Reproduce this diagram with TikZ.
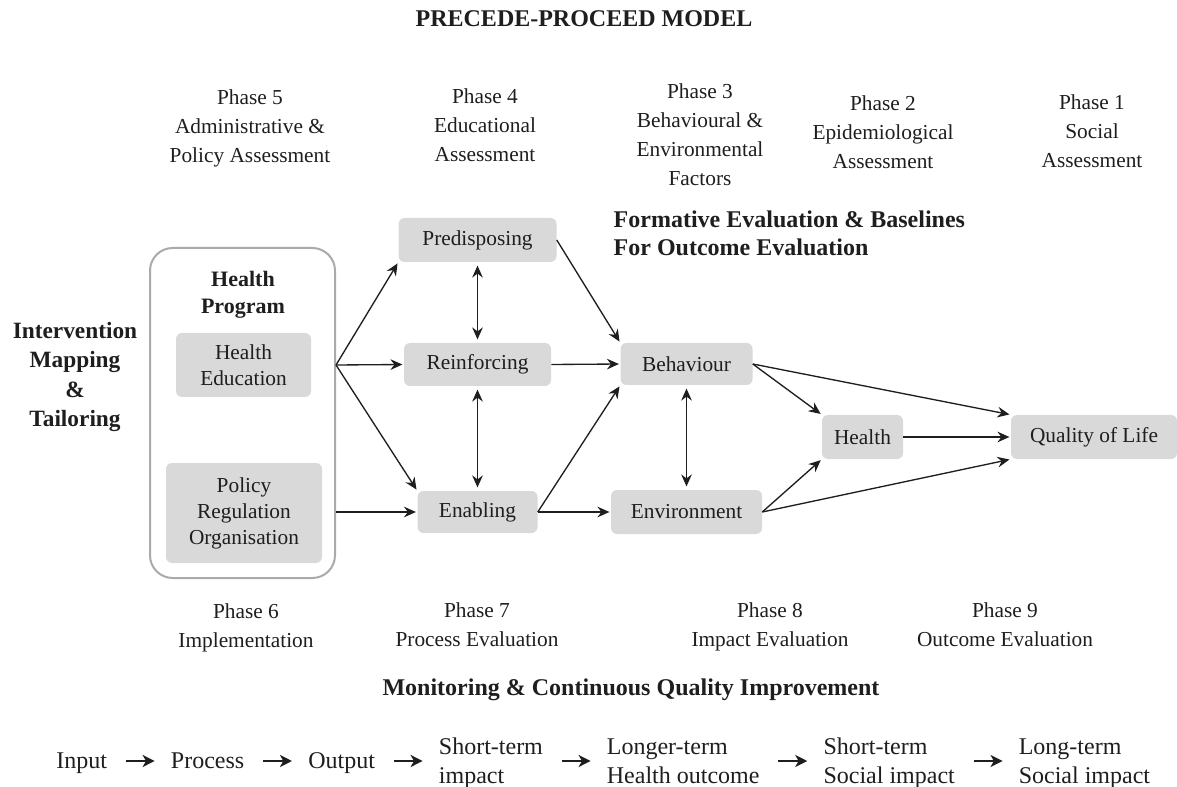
\documentclass[tikz,border=0pt]{standalone}
\usepackage{fontspec}
\setmainfont{Liberation Serif}
\usetikzlibrary{arrows.meta,positioning,calc}
\definecolor{boxgray}{RGB}{217,217,217}
\definecolor{framegray}{RGB}{170,170,170}
\definecolor{ink}{RGB}{30,30,30}

\begin{document}
\begin{tikzpicture}[x=0.75pt,y=-0.75pt,
    every node/.style={text=ink},
    phase/.style={align=center,font=\fontsize{16}{21.75}\selectfont},
    hdr/.style={align=center,font=\bfseries\fontsize{18}{21}\selectfont},
    box/.style 2 args={fill=boxgray,rounded corners=4.5pt,inner sep=0pt,align=center,
      minimum width=#1*0.75pt,minimum height=#2*0.75pt,font=\fontsize{16}{19.5}\selectfont},
    flow/.style={inner sep=0pt,text depth=0pt,align=left,font=\fontsize{18}{21.75}\selectfont},
    arr/.style={-{Stealth[length=9pt,width=8pt,inset=3pt]},line width=1pt,draw=ink,shorten >=1pt},
    dbl/.style={{Stealth[length=9pt,width=8pt,inset=3pt]}-{Stealth[length=9pt,width=8pt,inset=3pt]},
      line width=1pt,draw=ink,shorten >=2.5pt,shorten <=2.5pt},
    flowarr/.style={-{Stealth[length=9pt,width=9pt,inset=2.5pt]},line width=1.5pt,draw=ink,
      shorten <=14pt,shorten >=12pt}]
  \useasboundingbox (0,0) rectangle (1177,787);

  \node[hdr] (title) at (584,19) {PRECEDE-PROCEED MODEL};

  \node[phase] (ph5) at (250,128) {Phase 5\\Administrative \&\\Policy Assessment};
  \node[phase] (ph4) at (485,125) {Phase 4\\Educational\\Assessment};
  \node[phase] (ph3) at (700,135) {Phase 3\\Behavioural \&\\Environmental\\Factors};
  \node[phase] (ph2) at (883,132) {Phase 2\\Epidemiological\\Assessment};
  \node[phase] (ph1) at (1092,131) {Phase 1\\Social\\Assessment};
  \node[hdr,align=left,anchor=west] (form) at (609,233) {Formative Evaluation \& Baselines\\For Outcome Evaluation};

  \node[hdr,font=\bfseries\fontsize{17.5}{22}\selectfont] (imt) at (75,377) {Intervention\\Mapping\\\&\\Tailoring};

  \node[draw=framegray,line width=1.5pt,rounded corners=17pt,
    minimum width=185*0.75pt,minimum height=330*0.75pt] (prog) at (242.5,413) {};
  \node[align=center,font=\bfseries\fontsize{16.5}{20.5}\selectfont] (progtitle) at (243,295) {Health\\Program};
  \node[box={135}{64}] (hedu) at (243.5,365) {Health\\Education};
  \node[box={156}{100}] (policy) at (244,513) {Policy\\Regulation\\Organisation};

  \node[box={158}{44}] (pred) at (477.5,240) {Predisposing};
  \node[box={147}{43}] (reinf) at (477.5,364.5) {Reinforcing};
  \node[box={120}{42}] (enab) at (477.5,512) {Enabling};
  \node[box={132}{42}] (behav) at (686.5,364) {Behaviour};
  \node[box={151}{44}] (envir) at (686.5,512) {Environment};
  \node[box={81}{44}] (health) at (862.5,437) {Health};
  \node[box={166}{44}] (qol) at (1094,437) {Quality of Life};

  \coordinate (fan) at (prog.east |- hedu.east);
  \draw[arr] (fan) -- (pred.south west);
  \draw[arr] (fan) -- (reinf.west);
  \draw[arr] (fan) -- (enab.north west);
  \draw[arr] (prog.east |- enab.west) -- (enab.west);
  \draw[dbl] (pred.south) -- (reinf.north);
  \draw[dbl] (reinf.south) -- (enab.north);
  \draw[arr] (pred.east) -- (behav.north west);
  \draw[arr] (reinf.east) -- (behav.west);
  \draw[arr] (enab.east) -- (behav.south west);
  \draw[arr] (enab.east) -- (envir.west);
  \draw[dbl] (behav.south) -- (envir.north);
  \draw[arr] (behav.east) -- (health.north west);
  \draw[arr] (behav.east) -- (qol.north west);
  \draw[arr] (envir.east) -- (health.south west);
  \draw[arr] (envir.east) -- (qol.south west);
  \draw[arr] (health.east) -- (qol.west);

  \node[phase] (ph6) at (246,628) {Phase 6\\Implementation};
  \node[phase] (ph7) at (477,625) {Phase 7\\Process Evaluation};
  \node[phase] (ph8) at (770,627) {Phase 8\\Impact Evaluation};
  \node[phase] (ph9) at (1005,625) {Phase 9\\Outcome Evaluation};
  \node[hdr] (mon) at (631,690) {Monitoring \& Continuous Quality Improvement};

  \node[flow,anchor=west] (input) at (56,761) {Input};
  \node[flow,right=47.6pt of input] (process) {Process};
  \node[flow,right=47.6pt of process] (output) {Output};
  \node[flow,right=47.6pt of output] (stimp) {Short-term\\impact};
  \node[flow,right=47.6pt of stimp] (ltout) {Longer-term\\Health outcome};
  \node[flow,right=47.6pt of ltout] (stsoc) {Short-term\\Social impact};
  \node[flow,right=47.6pt of stsoc] (ltsoc) {Long-term\\Social impact};
  \draw[flowarr] (input) -- (process);
  \draw[flowarr] (process) -- (output);
  \draw[flowarr] (output) -- (stimp);
  \draw[flowarr] (stimp) -- (ltout);
  \draw[flowarr] (ltout) -- (stsoc);
  \draw[flowarr] (stsoc) -- (ltsoc);
\end{tikzpicture}
\end{document}
